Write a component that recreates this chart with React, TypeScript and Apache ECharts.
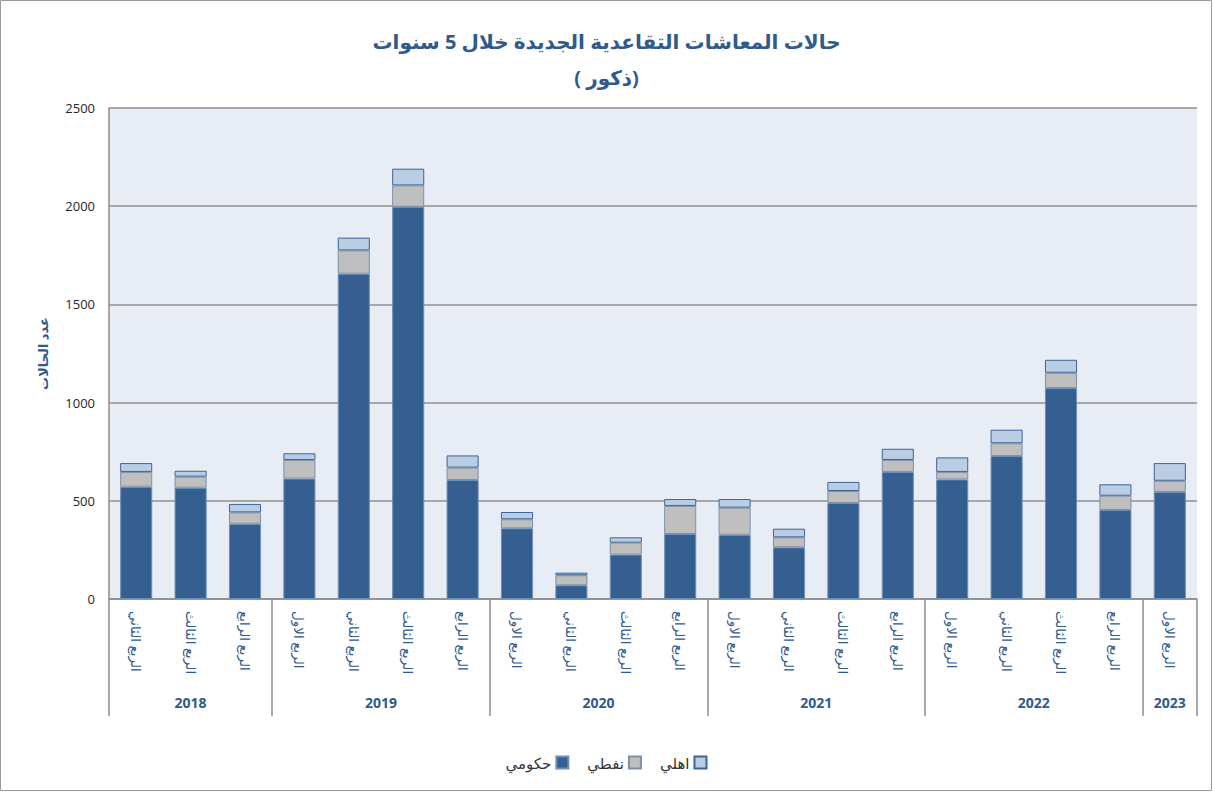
import React, { useEffect, useRef } from "react";
import * as echarts from "echarts";

const quarters = [
  "الربع الثاني", "الربع الثالث", "الربع الرابع",
  "الربع الاول", "الربع الثاني", "الربع الثالث", "الربع الرابع",
  "الربع الاول", "الربع الثاني", "الربع الثالث", "الربع الرابع",
  "الربع الاول", "الربع الثاني", "الربع الثالث", "الربع الرابع",
  "الربع الاول", "الربع الثاني", "الربع الثالث", "الربع الرابع",
  "الربع الاول",
];
const years = ["2018", "2019", "2020", "2021", "2022", "2023"];
const yearSizes = [3, 4, 4, 4, 4, 1];

const govt = [572, 567, 383, 613, 1656, 1997, 606, 360, 70, 226, 331, 327, 263, 489, 647, 609, 728, 1074, 453, 545];
const oil = [75, 56, 58, 95, 119, 109, 63, 46, 51, 61, 143, 138, 51, 61, 61, 38, 65, 78, 73, 57];
const priv = [45, 30, 43, 34, 65, 85, 62, 37, 13, 27, 35, 44, 44, 46, 57, 74, 69, 66, 58, 90];

const seriesNames = ["حكومي", "نفطي", "اهلي"];
const yTicks = [0, 500, 1000, 1500, 2000, 2500];

const FONT = "'Open Sans', 'DejaVu Sans', sans-serif";
const BLUE_TEXT = "#2f5a8c";

export default function App() {
  const ref = useRef<HTMLDivElement>(null);
  useEffect(() => {
    if (!ref.current) return;
    const chart = echarts.init(ref.current, undefined, { renderer: "svg" });

    const boundaries: number[] = [0];
    const centers: number[] = [];
    let acc = 0;
    yearSizes.forEach((s) => {
      centers.push(acc + s / 2);
      acc += s;
      boundaries.push(acc);
    });

    const barStyle = (color: string, border: string) => ({
      color,
      borderColor: border,
      borderWidth: 1,
    });

    chart.setOption({
      animation: false,
      backgroundColor: "#ffffff",
      textStyle: { fontFamily: FONT },
      title: {
        text: "حالات المعاشات التقاعدية الجديدة خلال 5 سنوات\n( ذكور)",
        left: "center",
        top: 18,
        textStyle: {
          fontFamily: FONT,
          fontSize: 20,
          fontWeight: "bold",
          color: BLUE_TEXT,
          lineHeight: 36,
        },
      },
      legend: {
        data: seriesNames,
        bottom: 17,
        left: "center",
        align: "right",
        icon: "rect",
        itemWidth: 12,
        itemHeight: 12,
        itemGap: 18,
        textStyle: { fontFamily: FONT, fontSize: 15, color: "#333333" },
      },
      graphic: [
        {
          type: "rect",
          shape: { x: 0.5, y: 0.5, width: 1211, height: 790 },
          style: { fill: "none", stroke: "#9a9a9a", lineWidth: 1 },
          silent: true,
        },
      ],
      grid: {
        left: 109,
        right: 16,
        top: 108,
        bottom: 193,
        show: true,
        backgroundColor: "#e8edf5",
        borderWidth: 0,
      },
      xAxis: [
        {
          type: "category",
          data: quarters,
          axisLine: { show: true, lineStyle: { color: "#8c8c8c", width: 1.5 } },
          axisTick: { show: false },
          axisLabel: {
            interval: 0,
            rotate: -90,
            margin: 12,
            fontFamily: FONT,
            fontSize: 13.5,
            color: BLUE_TEXT,
          },
          splitLine: { show: false },
        },
        {
          type: "value",
          min: 0,
          max: quarters.length,
          position: "bottom",
          axisLine: { show: false },
          splitLine: { show: false },
          axisTick: {
            show: true,
            customValues: boundaries,
            length: 117,
            lineStyle: { color: "#8c8c8c", width: 1.5 },
          },
          axisLabel: {
            show: true,
            customValues: centers,
            margin: 96,
            fontFamily: FONT,
            fontSize: 14,
            fontWeight: "bold",
            color: BLUE_TEXT,
            formatter: (v: number) => {
              const i = centers.findIndex((c) => Math.abs(c - v) < 1e-6);
              return i >= 0 ? years[i] : "";
            },
          },
        },
      ],
      yAxis: {
        type: "value",
        min: yTicks[0],
        max: yTicks[yTicks.length - 1],
        interval: 500,
        name: "عدد الحالات",
        nameLocation: "middle",
        nameGap: 60,
        nameTextStyle: {
          fontFamily: FONT,
          fontSize: 13,
          fontWeight: "bold",
          color: BLUE_TEXT,
        },
        axisLine: { show: true, lineStyle: { color: "#8c8c8c", width: 1.5 } },
        axisTick: { show: false },
        axisLabel: {
          fontFamily: FONT,
          fontSize: 13,
          color: "#262626",
          margin: 14,
          formatter: (v: number) => String(v),
        },
        splitLine: { show: true, lineStyle: { color: "#8f8f8f", width: 1.5 } },
      },
      series: [
        {
          name: seriesNames[0],
          type: "bar",
          stack: "total",
          data: govt,
          barWidth: "59%",
          itemStyle: barStyle("#355f91", "#6f8fb8"),
        },
        {
          name: seriesNames[1],
          type: "bar",
          stack: "total",
          data: oil,
          itemStyle: barStyle("#bfbfbf", "#7f8fa6"),
        },
        {
          name: seriesNames[2],
          type: "bar",
          stack: "total",
          data: priv,
          itemStyle: barStyle("#b9cde5", "#3d6596"),
        },
      ],
    });
    return () => chart.dispose();
  }, []);
  return (
    <div
      ref={ref}
      style={{ position: "fixed", left: 0, top: 0, width: 1213, height: 792 }}
    />
  );
}
